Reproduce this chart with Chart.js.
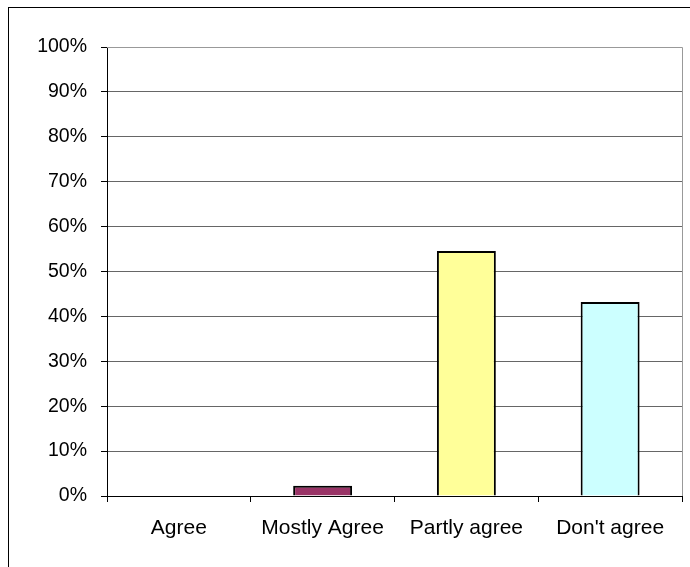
<!DOCTYPE html>
<html>
<head>
<meta charset="utf-8">
<script src="https://cdn.jsdelivr.net/npm/chart.js@4"></script>
<style>
  html, body { margin: 0; padding: 0; background: #fff; overflow: hidden; }
  #wrap { position: relative; width: 690px; height: 567px; }
  #frame { position: absolute; left: 8px; top: 7px; width: 720px; height: 620px; border: 1px solid #000; }
  canvas { position: absolute; left: 0; top: 0; }
</style>
</head>
<body>
<div id="wrap">
  <div id="frame"></div>
  <canvas id="chart" width="690" height="567"></canvas>
</div>
<script>
const categories = ['Agree', 'Mostly Agree', 'Partly agree', "Don't agree"];
const shares = [0, 2.27, 54.55, 43.18];
const barColors = ['#993366', '#993366', '#FFFF99', '#CCFFFF'];
const yTicks = [0, 10, 20, 30, 40, 50, 60, 70, 80, 90, 100];

// grey box round the plot area, like the old spreadsheet charts
const plotFrame = {
    id: 'plotFrame',
    afterDraw(chart) {
        const a = chart.chartArea;
        const ctx = chart.ctx;
        ctx.save();
        ctx.strokeStyle = '#999';
        ctx.lineWidth = 1;
        ctx.beginPath();
        ctx.moveTo(a.left, a.top + 0.5);
        ctx.lineTo(a.right + 0.5, a.top + 0.5);
        ctx.lineTo(a.right + 0.5, a.bottom);
        ctx.stroke();
        ctx.restore();
    }
};

let ctx = document.getElementById('chart').getContext('2d');
let chart = new Chart(ctx, {
    type: 'bar',
    data: {
        labels: categories,
        datasets: [{
            data: shares,
            backgroundColor: barColors,
            borderColor: '#000',
            borderWidth: 2,
            barPercentage: 0.41,
            categoryPercentage: 1
        }]
    },
    options: {
        responsive: false,
        animation: false,
        layout: { padding: { left: 0, right: 8, top: 47, bottom: 0 } },
        plugins: {
            legend: { display: false },
            tooltip: { enabled: false }
        },
        scales: {
            x: {
                offset: true,
                grid: {
                    offset: true,
                    drawOnChartArea: false,
                    tickLength: 6,
                    color: '#000'
                },
                border: { color: '#000', width: 1 },
                ticks: {
                    color: '#000',
                    padding: 14,
                    font: { family: 'Liberation Sans, Arial, sans-serif', size: 21 }
                },
                afterFit(scale) { scale.height = 71; }
            },
            y: {
                min: 0,
                max: 100,
                afterBuildTicks(scale) {
                    scale.ticks = yTicks.map(v => ({ value: v }));
                },
                grid: {
                    color: c => c.tick && c.tick.value === 100 ? '#999' : '#666',
                    tickColor: '#000',
                    tickLength: 6
                },
                border: { color: '#000', width: 1 },
                ticks: {
                    color: '#000',
                    padding: 14,
                    font: { family: 'Liberation Sans, Arial, sans-serif', size: 19.5 },
                    callback: v => v + '%'
                },
                afterFit(scale) { scale.width = 107; }
            }
        }
    },
    plugins: [plotFrame]
});
</script>
</body>
</html>
